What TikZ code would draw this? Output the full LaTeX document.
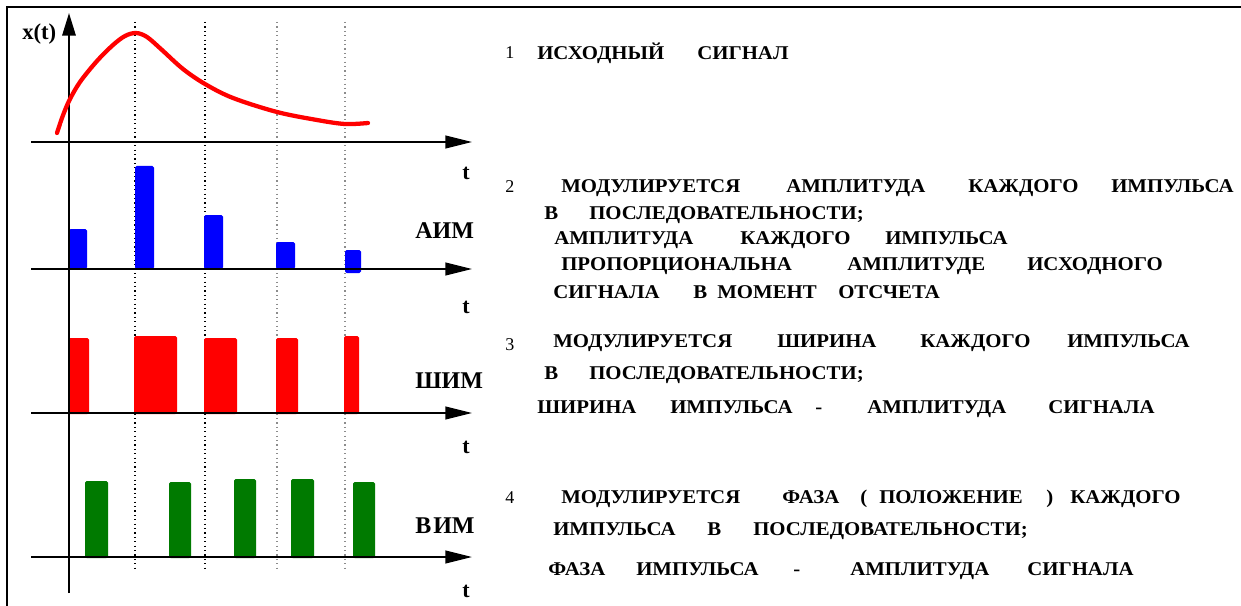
\documentclass[tikz,border=0pt]{standalone}
\usepackage{fontspec}
\setmainfont{Liberation Serif}
\newfontfamily\wideserif[FakeStretch=1.07]{Liberation Serif}
\usetikzlibrary{arrows.meta}

\definecolor{pamblue}{RGB}{0,0,255}
\definecolor{pamred}{RGB}{255,0,0}
\definecolor{pamgreen}{RGB}{0,122,0}
\definecolor{gridgray}{RGB}{140,140,140}

\tikzset{
  axisline/.style={line width=1.6pt, -{Triangle[length=20pt,width=9.5pt]}},
  vaxisline/.style={line width=1.6pt, -{Triangle[length=17pt,width=10pt]}},
  tickline/.style={line width=0.9pt, dash pattern=on 0.9pt off 2.4pt},
  bar/.style={rounded corners=1.2pt},
  txt/.style={font=\wideserif\bfseries\fontsize{14.6}{18}\selectfont, anchor=base west, inner sep=0pt},
  num/.style={font=\fontsize{13.5}{15}\selectfont, anchor=base west, inner sep=0pt},
  siglabel/.style={font=\bfseries\fontsize{18}{20}\selectfont, anchor=base west, inner sep=0pt},
  tlabel/.style={font=\bfseries\fontsize{16.5}{18}\selectfont, anchor=base, inner sep=0pt},
}

\begin{document}
\begin{tikzpicture}[x=0.75pt,y=-0.75pt]
\useasboundingbox (0,0) rectangle (1241,606);
\fill[white] (0,0) rectangle (1241,606);

% outer frame (top and left edges)
\draw[line width=1.5pt] (7,606) -- (7,7) -- (1241,7);

% sampling instants
\foreach \x/\c in {135/black, 205/black, 277/gridgray, 345/gridgray}
  \draw[tickline, draw=\c] (\x,22) -- (\x,570);

% bars: amplitude modulation
\fill[pamblue, bar] (69,269) rectangle (87,229);
\fill[pamblue, bar] (135,269) rectangle (154,166);
\fill[pamblue, bar] (204,269) rectangle (223,215);
\fill[pamblue, bar] (276,269) rectangle (295,242);
\fill[pamblue, bar] (345,273) rectangle (361,250);

% bars: width modulation
\fill[pamred, bar] (68,414) rectangle (89,338);
\fill[pamred, bar] (134,414) rectangle (177,336);
\fill[pamred, bar] (204,414) rectangle (237,338);
\fill[pamred, bar] (276,414) rectangle (298,338);
\fill[pamred, bar] (344,414) rectangle (359,336);

% bars: position modulation
\fill[pamgreen, bar] (85,558) rectangle (108,481);
\fill[pamgreen, bar] (169,558) rectangle (191,482);
\fill[pamgreen, bar] (234,558) rectangle (256,479);
\fill[pamgreen, bar] (291,558) rectangle (314,479);
\fill[pamgreen, bar] (353,558) rectangle (375,482);

% axes
\coordinate (yb) at (69,593);
\coordinate (yt) at (69,13);
\draw[vaxisline] (yb) -- (yt);
\foreach \y [count=\i] in {142,269,413,557} {
  \coordinate (xa\i) at (31,\y);
  \coordinate (xb\i) at (472,\y);
  \draw[axisline] (xa\i) -- (xb\i);
}

% original signal
\draw[pamred, line width=3.2pt, line cap=round, line join=round]
  plot[smooth, tension=0.55] coordinates {(57,133) (62,118) (69,101) (80,82) (97,61) (113,45)
  (125,36) (136,33) (147,37) (162,50) (183,69) (205,84) (233,98) (277,112) (317,120) (345,124) (368,123)};

% axis labels
\node[font=\bfseries\fontsize{17}{19}\selectfont, anchor=base west, inner sep=0pt] (xt) at (22,40) {x(t)};
\foreach \y [count=\i] in {180,313,453,597}
  \node[tlabel] (t\i) at (466,\y) {t};
\node[siglabel] (aim) at (415,238) {АИМ};
\node[siglabel] (shim) at (415,388) {ШИМ};
\node[siglabel] (vim) at (415,533) {В\kern1.5ptИМ};

% numbers
\node[num] (n1) at (505,59) {1};
\node[num] (n2) at (505,192) {2};
\node[num] (n3) at (505,350) {3};
\node[num] (n4) at (505,503) {4};

% descriptions
\foreach \x/\w [count=\i] in {537/ИСХОДНЫЙ, 697/СИГНАЛ}
  \node[txt] (a\i) at (\x,60) {\w};

\foreach \x/\w [count=\i] in {561/МОДУЛИРУЕТСЯ, 786/АМПЛИТУДА, 968/КАЖДОГО, 1111/ИМПУЛЬСА}
  \node[txt] (b\i) at (\x,192) {\w};
\foreach \x/\w [count=\i] in {544/В, 589/ПОСЛЕДОВАТЕЛЬНОСТИ;}
  \node[txt] (c\i) at (\x,219) {\w};
\foreach \x/\w [count=\i] in {554/АМПЛИТУДА, 740/КАЖДОГО, 885/ИМПУЛЬСА}
  \node[txt] (d\i) at (\x,244) {\w};
\foreach \x/\w [count=\i] in {561/ПРОПОРЦИОНАЛЬНА, 847/АМПЛИТУДЕ, 1027/ИСХОДНОГО}
  \node[txt] (e\i) at (\x,270) {\w};
\foreach \x/\w [count=\i] in {553/СИГНАЛА, 693/В, 717/МОМЕНТ, 838/ОТСЧЕТА}
  \node[txt] (f\i) at (\x,298) {\w};

\foreach \x/\w [count=\i] in {553/МОДУЛИРУЕТСЯ, 777/ШИРИНА, 920/КАЖДОГО, 1067/ИМПУЛЬСА}
  \node[txt] (g\i) at (\x,347) {\w};
\foreach \x/\w [count=\i] in {544/В, 589/ПОСЛЕДОВАТЕЛЬНОСТИ;}
  \node[txt] (h\i) at (\x,379) {\w};
\foreach \x/\w [count=\i] in {537/ШИРИНА, 670/ИМПУЛЬСА, 815/-, 867/АМПЛИТУДА, 1048/СИГНАЛА}
  \node[txt] (k\i) at (\x,413) {\w};

\foreach \x/\w [count=\i] in {561/МОДУЛИРУЕТСЯ, 782/ФАЗА, 860/(, 879/ПОЛОЖЕНИЕ, 1046/), 1070/КАЖДОГО}
  \node[txt] (m\i) at (\x,503) {\w};
\foreach \x/\w [count=\i] in {553/ИМПУЛЬСА, 707/В, 753/ПОСЛЕДОВАТЕЛЬНОСТИ;}
  \node[txt] (p\i) at (\x,535) {\w};
\foreach \x/\w [count=\i] in {548/ФАЗА, 636/ИМПУЛЬСА, 793/-, 850/АМПЛИТУДА, 1027/СИГНАЛА}
  \node[txt] (q\i) at (\x,575) {\w};
\end{tikzpicture}
\end{document}
